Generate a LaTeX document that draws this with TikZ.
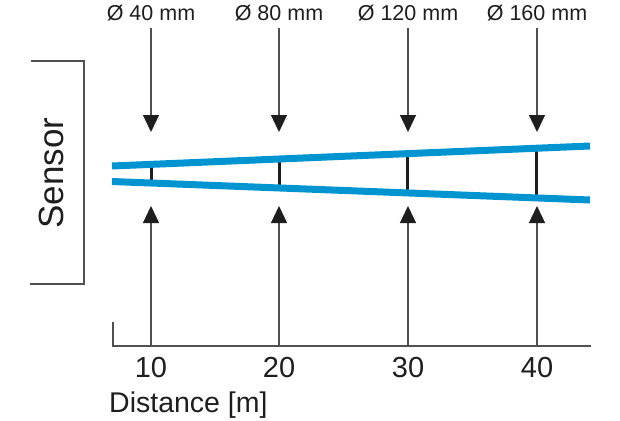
\documentclass[tikz,border=0pt]{standalone}
\usepackage{fontspec}
\setmainfont{Liberation Sans}
\usetikzlibrary{arrows.meta,calc}
\definecolor{beamblue}{RGB}{0,148,208}
\definecolor{linegray}{RGB}{80,80,80}
\definecolor{darkink}{RGB}{30,30,30}
\tikzset{
  guide/.style={draw=linegray, line width=1.3pt},
  pointer/.style={guide, -{Triangle[width=16pt,length=17pt,color=darkink]}},
  beam/.style={draw=beamblue, line width=7pt},
  gap/.style={draw=darkink, line width=3pt},
  toplabel/.style={font=\fontsize{21.5}{24}\selectfont, text=darkink, anchor=base, inner sep=0pt},
  ticklabel/.style={font=\fontsize{29}{32}\selectfont, text=darkink, anchor=base, inner sep=0pt},
}
\begin{document}
\begin{tikzpicture}[x=1pt,y=-1pt]
\useasboundingbox (0,0) rectangle (620,420);
% beam end points
\coordinate (u0) at (112,166);
\coordinate (u1) at (590,146);
\coordinate (d0) at (112,181.5);
\coordinate (d1) at (590,200);
% points on beams at the four distances
\path (u0) -- (u1)
  coordinate[pos=0.0816] (ua)
  coordinate[pos=0.3494] (ub)
  coordinate[pos=0.6192] (uc)
  coordinate[pos=0.8891] (ud);
\path (d0) -- (d1)
  coordinate[pos=0.0816] (da)
  coordinate[pos=0.3494] (db)
  coordinate[pos=0.6192] (dc)
  coordinate[pos=0.8891] (dd);
% black gap bars
\foreach \p in {a,b,c,d} {
  \draw[gap] (u\p) -- (d\p);
}
% beams
\draw[beam] (u0) -- (u1);
\draw[beam] (d0) -- (d1);
% top labels and arrows
\node[toplabel] (la) at (151,21) {Ø 40 mm};
\node[toplabel] (lb) at (279,21) {Ø 80 mm};
\node[toplabel] (lc) at (408,21) {Ø 120 mm};
\node[toplabel] (ld) at (537,21) {Ø 160 mm};
\foreach \p/\x in {a/151,b/279,c/408,d/537} {
  \coordinate (ts\p) at (\x,28);
  \coordinate (te\p) at (\x,132);
  \coordinate (bs\p) at (\x,346);
  \coordinate (be\p) at (\x,206);
  \draw[pointer] (ts\p) -- (te\p);
  \draw[pointer] (bs\p) -- (be\p);
}
% axis
\coordinate (ax0) at (113,322);
\coordinate (ax1) at (113,346);
\coordinate (ax2) at (591,346);
\draw[guide] (ax0) -- (ax1) -- (ax2);
% tick labels
\node[ticklabel] (ta) at (151,377) {10};
\node[ticklabel] (tb) at (279,377) {20};
\node[ticklabel] (tc) at (408,377) {30};
\node[ticklabel] (td) at (537,377) {40};
\node[ticklabel, font=\fontsize{28.5}{32}\selectfont, anchor=base west] (dist) at (109,412) {Distance [m]};
% sensor bracket
\coordinate (s0) at (31,61);
\coordinate (s1) at (84,61);
\coordinate (s2) at (84,284);
\coordinate (s3) at (30,284);
\draw[guide] (s0) -- (s1) -- (s2) -- (s3);
\node[font=\fontsize{35}{40}\selectfont, text=darkink, rotate=90, anchor=base, inner sep=0pt] (sensor) at (63,173) {Sensor};
\end{tikzpicture}
\end{document}
